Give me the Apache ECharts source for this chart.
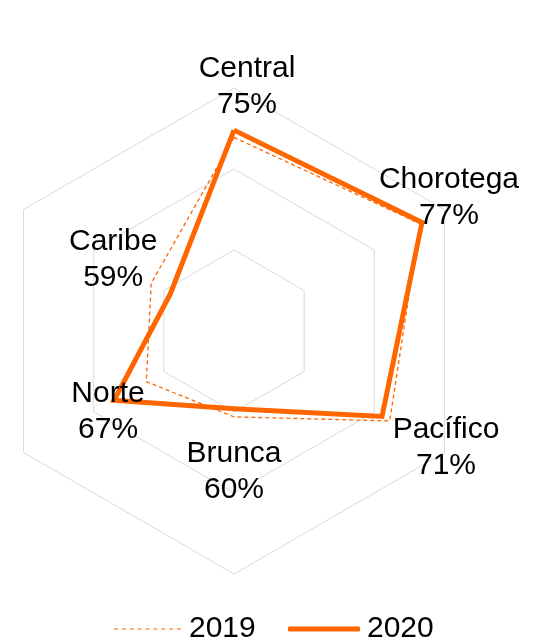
<!DOCTYPE html>
<html>
<head>
<meta charset="utf-8">
<script src="https://cdn.jsdelivr.net/npm/echarts@6/dist/echarts.min.js"></script>
<style>
html, body { margin: 0; padding: 0; background: #fff; }
#main { width: 554px; height: 641px; }
</style>
</head>
<body>
<div id="main"></div>
<script>
// indicators listed counter-clockwise from the top (radar order)
var regions = ['Central', 'Caribe', 'Norte', 'Brunca', 'Pacífico', 'Chorotega'];
var values2019 = [73.9, 61.8, 62.5, 60.6, 72.2, 76.5];
var values2020 = [74.8, 59.1, 67.1, 59.6, 71.1, 76.8];
var scaleMin = 50;
var scaleMax = 80;

// where each 2020 label sits relative to its point
var labelOffsets = [[13, -43], [-57, -34], [-6, 11], [0, 63], [64, 31], [27, -25]];

var orange = '#ff6600';
var font = 'Liberation Sans, Arial, sans-serif';

// dashed legend icon
var dashIcon = 'path://';
for (var i = 0; i < 9; i++) {
  dashIcon += 'M' + (i * 7.875) + ',0h4v1h-4z';
}

// one invisible copy of the 2020 polygon per label, so each label gets its own offset
var labelItems = regions.map(function (r, k) {
  return {
    name: r,
    value: values2020,
    label: {
      show: true,
      position: 'inside',
      offset: labelOffsets[k],
      color: '#000',
      fontSize: 30,
      lineHeight: 36,
      fontFamily: font,
      align: 'center',
      formatter: function (p) {
        return p.value === values2020[k] ? r + '\n' + Math.round(p.value) + '%' : '';
      }
    }
  };
});

var chart = echarts.init(document.getElementById('main'));
chart.setOption({
  animation: false,
  radar: {
    center: [234, 331],
    radius: 243,
    startAngle: 90,
    shape: 'polygon',
    splitNumber: 3,
    indicator: regions.map(function (r) {
      return { name: r, min: scaleMin, max: scaleMax };
    }),
    axisName: { show: false },
    axisLine: { show: false },
    axisTick: { show: false },
    axisLabel: { show: false },
    splitLine: { lineStyle: { color: '#d9d9d9', width: 1 } },
    splitArea: { show: false }
  },
  legend: [
    {
      data: [{ name: '2019', icon: dashIcon, itemStyle: { color: orange, borderWidth: 0 } }],
      left: 114,
      top: 614,
      padding: 0,
      itemWidth: 67,
      itemHeight: 1.5,
      textStyle: { fontSize: 30, color: '#000', fontFamily: font, padding: [0, 0, 0, 3] }
    },
    {
      data: [{ name: '2020', icon: 'roundRect', itemStyle: { color: orange, borderWidth: 0 } }],
      left: 288,
      top: 614,
      padding: 0,
      itemWidth: 72,
      itemHeight: 5,
      textStyle: { fontSize: 30, color: '#000', fontFamily: font, padding: [0, 0, 0, 2] }
    }
  ],
  series: [
    {
      name: '2019',
      type: 'radar',
      symbol: 'none',
      itemStyle: { color: orange },
      lineStyle: { color: orange, width: 1.3, type: [4, 3] },
      data: [{ name: '2019', value: values2019 }]
    },
    {
      name: '2020',
      type: 'radar',
      symbol: 'none',
      itemStyle: { color: orange },
      lineStyle: { color: orange, width: 5, join: 'miter' },
      data: [{ name: '2020', value: values2020 }]
    },
    {
      name: 'labels',
      type: 'radar',
      silent: true,
      symbol: 'circle',
      symbolSize: 1,
      itemStyle: { color: 'rgba(0,0,0,0)', borderWidth: 0 },
      lineStyle: { width: 0, opacity: 0 },
      data: labelItems
    }
  ]
});
</script>
</body>
</html>
